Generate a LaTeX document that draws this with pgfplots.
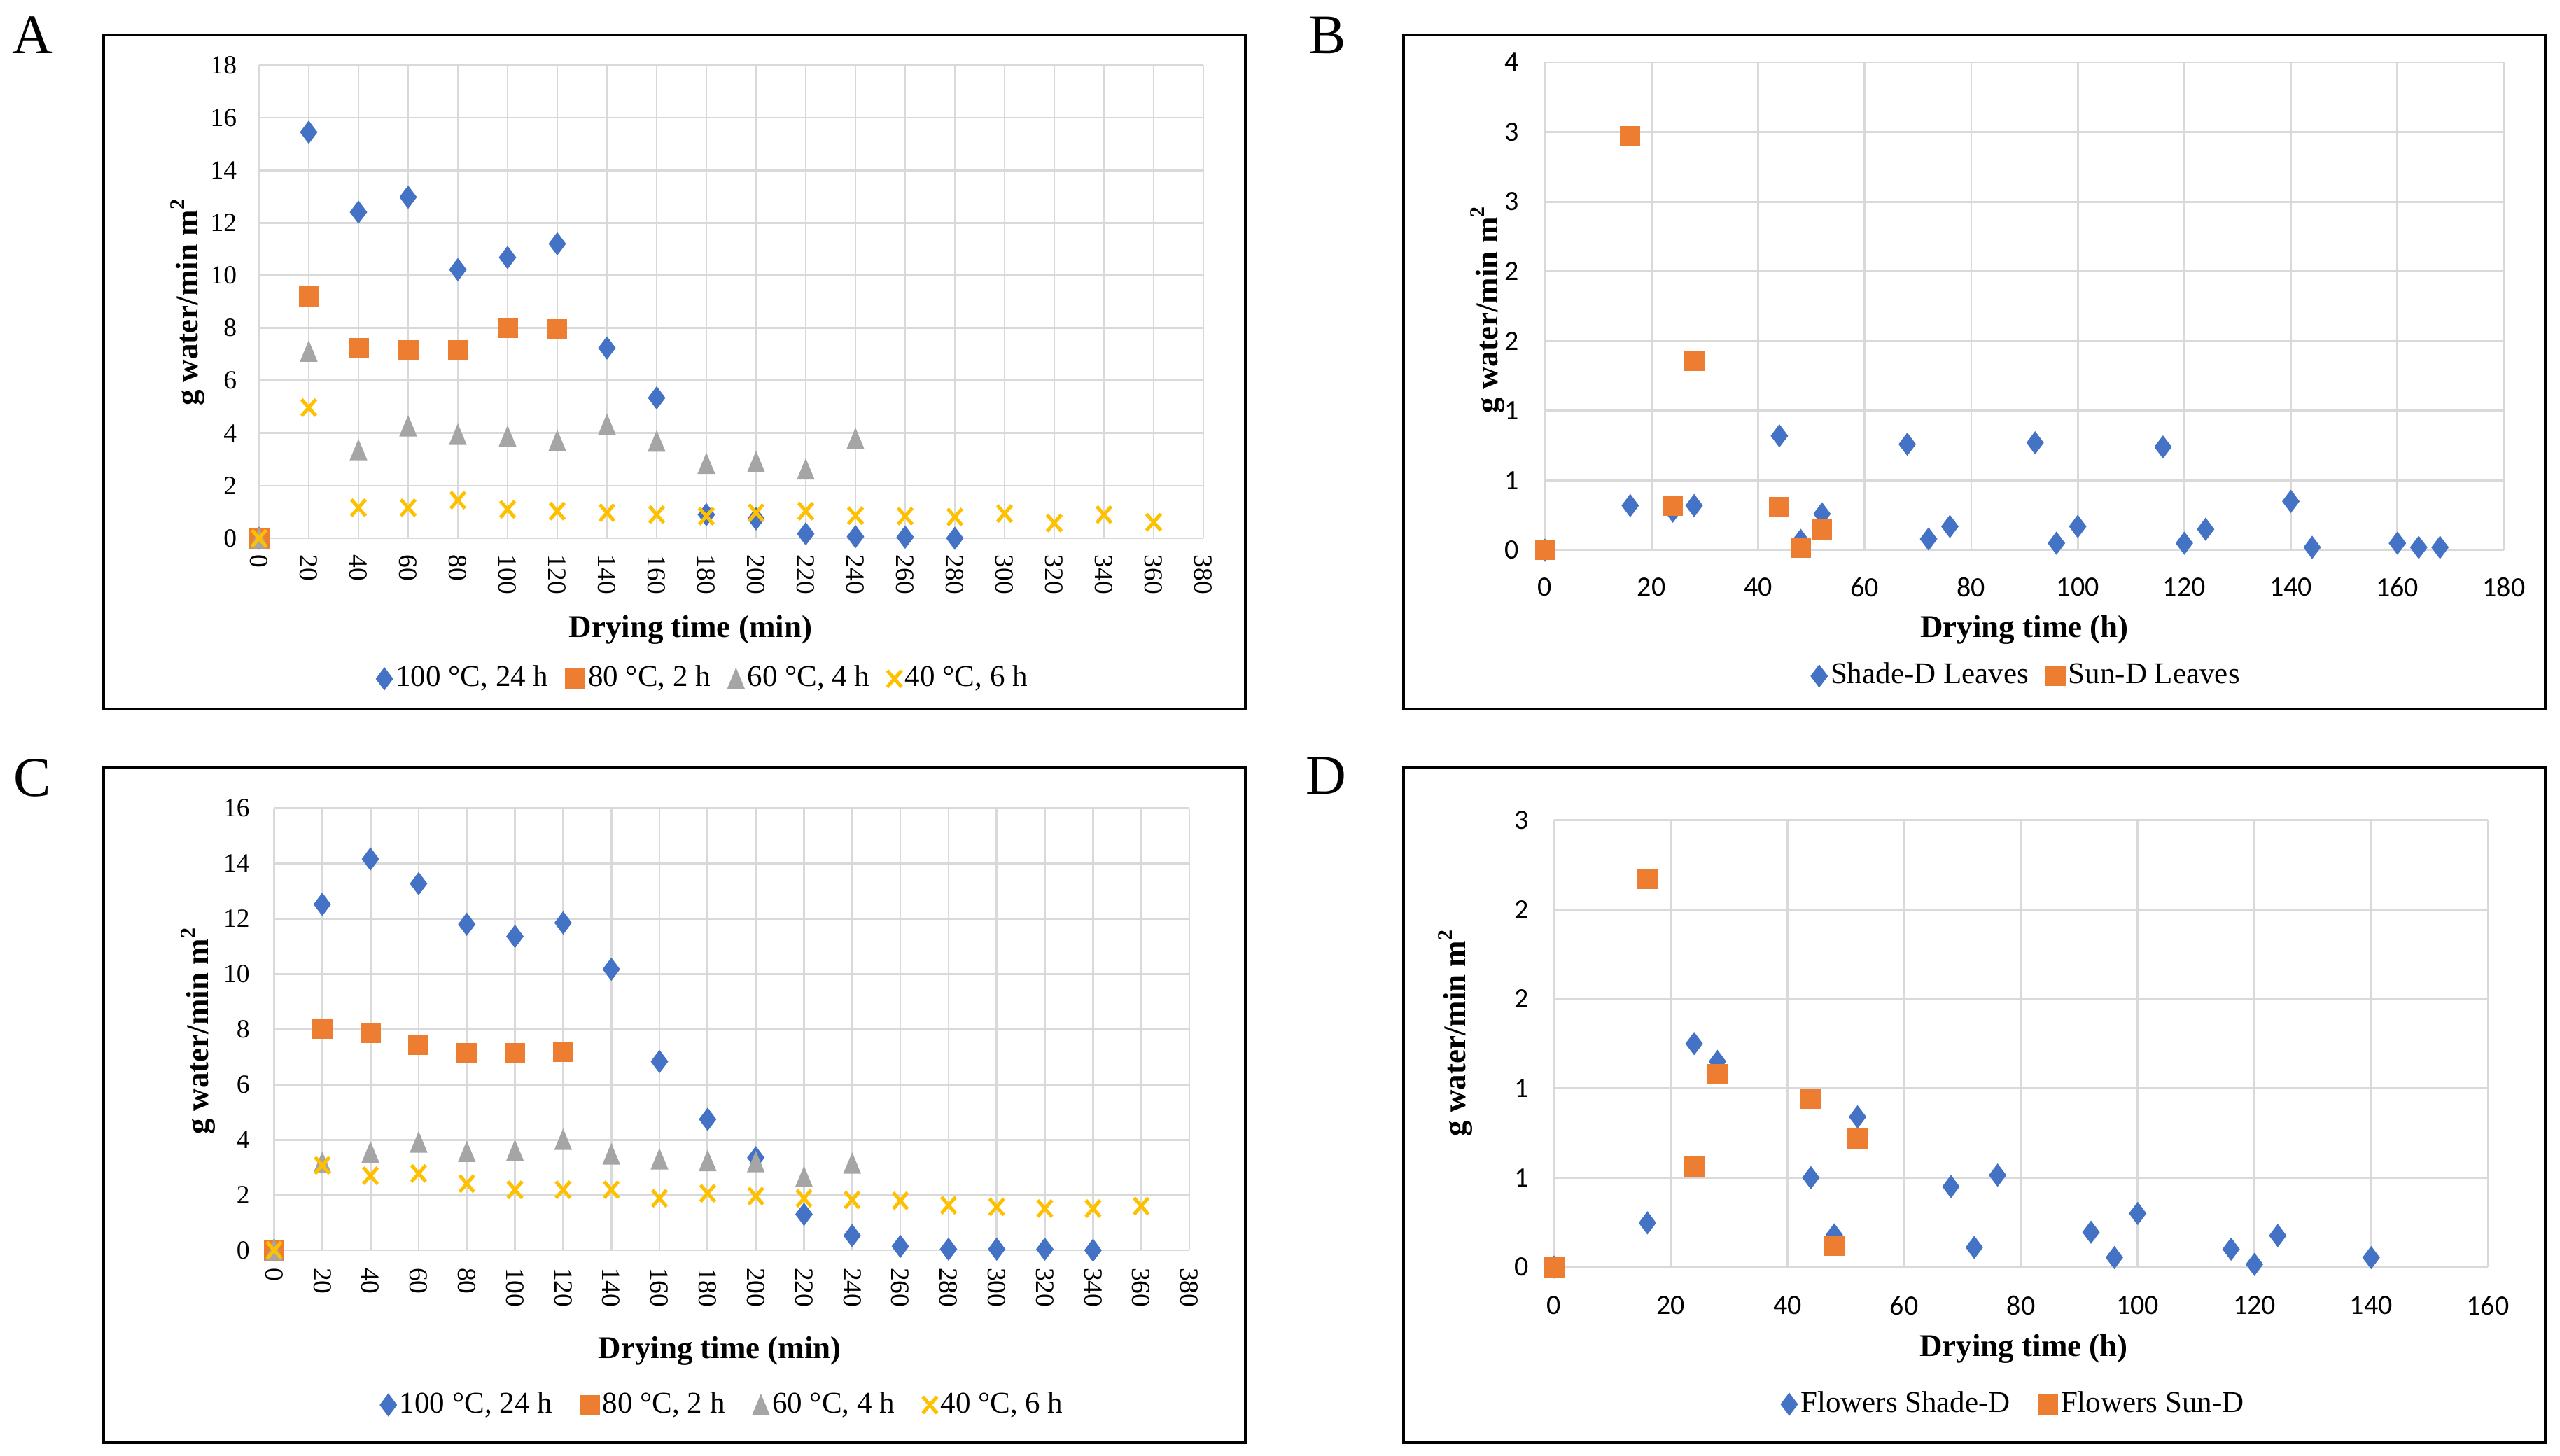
\documentclass[border=0pt]{standalone}
\usepackage{fontspec}
\setmainfont{Liberation Serif}
\newfontfamily\carlito{Carlito}
\usepackage{pgfplots}
\pgfplotsset{compat=1.18}
\definecolor{cblue}{HTML}{4472C4}
\definecolor{corange}{HTML}{ED7D31}
\definecolor{cgray}{HTML}{A5A5A5}
\definecolor{cyellow}{HTML}{FFC000}
\definecolor{cgrid}{HTML}{D9D9D9}
\pgfplotsset{
  exstyle/.style={
    scale only axis, clip=false,
    axis line style={draw=none},
    major tick length=0pt,
    grid=major,
    major grid style={cgrid, line width=0.55pt},
    /pgf/number format/assume math mode=true,
    legend columns=-1,
    legend style={draw=none, fill=none, font=\fontsize{8.6}{10}\selectfont, anchor=center,
      nodes={inner sep=1pt},
      /tikz/every even column/.append style={column sep=4pt}},
    legend image code/.code={\draw[##1] plot coordinates {(3pt,0pt)};},
    label style={font=\fontsize{9}{11}\selectfont\bfseries},
    xlabel style={anchor=center},
    ylabel style={anchor=center},
  },
  serifticks/.style={tick label style={font=\fontsize{7.5}{9}\selectfont}},
  sansticks/.style={tick label style={font=\carlito\fontsize{8}{10}\selectfont}},
  sdiam/.style={only marks, mark=diamond*, mark size=3pt, color=cblue},
  ssq/.style={only marks, mark=square*, mark size=2.7pt, color=corange},
  stri/.style={only marks, mark=triangle*, mark size=3.6pt, color=cgray, mark options={yshift=-0.9pt, xscale=0.72}},
  scross/.style={only marks, mark=x, mark size=2.9pt, color=cyellow, mark options={line width=1pt, yscale=1.15}},
}
\begin{document}
\begin{tikzpicture}[x=1pt,y=1pt]
\path[use as bounding box] (0,0) rectangle (731.4,415.8);
% frames
\draw[line width=0.7pt] (29.6,213.2) rectangle (355.8,405.8);
\draw[line width=0.7pt] (401,213.2) rectangle (727.2,405.8);
\draw[line width=0.7pt] (29.6,3.6) rectangle (355.8,196.6);
\draw[line width=0.7pt] (401,3.6) rectangle (727.2,196.6);
\node[font=\fontsize{16}{18}\selectfont] at (9.2,405.8) {A};
\node[font=\fontsize{16}{18}\selectfont] at (379.2,405.8) {B};
\node[font=\fontsize{16}{18}\selectfont] at (9.2,193.6) {C};
\node[font=\fontsize{16}{18}\selectfont] at (378.8,194.2) {D};

% ---------------- A
\begin{axis}[exstyle, serifticks,
  at={(74pt,262pt)}, anchor=south west, width=269.8pt, height=135.2pt,
  xmin=0, xmax=380, ymin=0, ymax=18,
  xtick={0,20,...,380}, ytick={0,2,...,18},
  x tick label style={yshift=-4.6pt, rotate=-90, anchor=west, inner sep=0pt},
  y tick label style={anchor=east, inner sep=0pt, xshift=-6.2pt},
  xlabel={Drying time (min)}, ylabel={g water/min m\textsuperscript{2}},
  xlabel style={at={(axis description cs:0.457,-0.194)}},
  ylabel style={at={(axis description cs:-0.0756,0.5)}},
  legend style={at={(axis description cs:0.471,-0.297)}},
]
\addplot[sdiam] coordinates {(0,0)(20,15.45)(40,12.41)(60,12.98)(80,10.22)(100,10.68)(120,11.2)(140,7.24)(160,5.34)(180,0.9)(200,0.74)(220,0.17)(240,0.06)(260,0.04)(280,0.0)};
\addplot[ssq] coordinates {(0,0)(20,9.2)(40,7.23)(60,7.14)(80,7.14)(100,7.99)(120,7.94)};
\addplot[stri] coordinates {(0,0)(20,7.1)(40,3.35)(60,4.26)(80,3.94)(100,3.87)(120,3.70)(140,4.32)(160,3.68)(180,2.83)(200,2.90)(220,2.62)(240,3.78)};
\addplot[scross] coordinates {(0,0)(20,4.97)(40,1.16)(60,1.16)(80,1.45)(100,1.10)(120,1.03)(140,0.97)(160,0.90)(180,0.84)(200,0.97)(220,1.03)(240,0.86)(260,0.84)(280,0.81)(300,0.94)(320,0.58)(340,0.90)(360,0.61)};
\legend{{100 °C, 24 h},{80 °C, 2 h},{60 °C, 4 h},{40 °C, 6 h}}
\end{axis}

% ---------------- B
\begin{axis}[exstyle, sansticks,
  at={(441.4pt,258.6pt)}, anchor=south west, width=274pt, height=139.4pt,
  xmin=0, xmax=180, ymin=0, ymax=3.5,
  xtick={0,20,...,180}, ytick={0,0.5,1,1.5,2,2.5,3,3.5},
  yticklabels={0,1,1,2,2,3,3,4},
  x tick label style={anchor=north, inner sep=0pt, yshift=-7.7pt},
  y tick label style={anchor=east, inner sep=0pt, xshift=-7.2pt},
  xlabel={Drying time (h)}, ylabel={g water/min m\textsuperscript{2}},
  xlabel style={at={(axis description cs:0.5,-0.1636)}},
  ylabel style={at={(axis description cs:-0.060,0.494)}},
  legend style={at={(axis description cs:0.503,-0.258)}},
]
\addplot[sdiam] coordinates {(0,0)(16,0.32)(24,0.28)(28,0.32)(44,0.82)(48,0.07)(52,0.26)(68,0.76)(72,0.08)(76,0.17)(92,0.77)(96,0.05)(100,0.17)(116,0.74)(120,0.05)(124,0.15)(140,0.35)(144,0.02)(160,0.05)(164,0.02)(168,0.02)};
\addplot[ssq] coordinates {(0,0)(16,2.97)(24,0.32)(28,1.36)(44,0.31)(48,0.02)(52,0.15)};
\legend{{Shade-D Leaves},{Sun-D Leaves}}
\end{axis}

% ---------------- C
\begin{axis}[exstyle, serifticks,
  at={(78.3pt,58.6pt)}, anchor=south west, width=261.5pt, height=126.3pt,
  xmin=0, xmax=380, ymin=0, ymax=16,
  xtick={0,20,...,380}, ytick={0,2,...,16},
  x tick label style={yshift=-4.8pt, rotate=-90, anchor=west, inner sep=0pt},
  y tick label style={anchor=east, inner sep=0pt, xshift=-6.8pt},
  xlabel={Drying time (min)}, ylabel={g water/min m\textsuperscript{2}},
  xlabel style={at={(axis description cs:0.487,-0.228)}},
  ylabel style={at={(axis description cs:-0.083,0.497)}},
  legend style={at={(axis description cs:0.491,-0.35)}, /tikz/every even column/.append style={column sep=7pt}},
]
\addplot[sdiam] coordinates {(0,0)(20,12.52)(40,14.16)(60,13.27)(80,11.80)(100,11.36)(120,11.85)(140,10.17)(160,6.83)(180,4.74)(200,3.35)(220,1.30)(240,0.53)(260,0.14)(280,0.04)(300,0.04)(320,0.04)(340,0.0)};
\addplot[ssq] coordinates {(0,0)(20,8.02)(40,7.87)(60,7.43)(80,7.12)(100,7.12)(120,7.18)};
\addplot[stri] coordinates {(0,0)(20,3.17)(40,3.54)(60,3.90)(80,3.56)(100,3.60)(120,4.00)(140,3.47)(160,3.29)(180,3.23)(200,3.19)(220,2.65)(240,3.14)};
\addplot[scross] coordinates {(0,0)(20,3.07)(40,2.70)(60,2.78)(80,2.41)(100,2.19)(120,2.19)(140,2.19)(160,1.88)(180,2.06)(200,1.96)(220,1.88)(240,1.82)(260,1.79)(280,1.63)(300,1.57)(320,1.51)(340,1.51)(360,1.60)};
\legend{{100 °C, 24 h},{80 °C, 2 h},{60 °C, 4 h},{40 °C, 6 h}}
\end{axis}

% ---------------- D
\begin{axis}[exstyle, sansticks,
  at={(444pt,53.8pt)}, anchor=south west, width=266.8pt, height=127.7pt,
  xmin=0, xmax=160, ymin=0, ymax=2.5,
  xtick={0,20,...,160}, ytick={0,0.5,1,1.5,2,2.5},
  yticklabels={0,1,1,2,2,3},
  x tick label style={anchor=north, inner sep=0pt, yshift=-8.1pt},
  y tick label style={anchor=east, inner sep=0pt, xshift=-7pt},
  xlabel={Drying time (h)}, ylabel={g water/min m\textsuperscript{2}},
  xlabel style={at={(axis description cs:0.503,-0.183)}},
  ylabel style={at={(axis description cs:-0.106,0.525)}},
  legend style={at={(axis description cs:0.493,-0.307)}, /tikz/every even column/.append style={column sep=7pt}},
]
\addplot[sdiam] coordinates {(0,0)(16,0.247)(24,1.25)(28,1.15)(44,0.50)(48,0.18)(52,0.84)(68,0.45)(72,0.11)(76,0.514)(92,0.195)(96,0.053)(100,0.30)(116,0.10)(120,0.015)(124,0.176)(140,0.053)};
\addplot[ssq] coordinates {(0,0)(16,2.17)(24,0.56)(28,1.08)(44,0.94)(48,0.12)(52,0.72)};
\legend{{Flowers Shade-D},{Flowers Sun-D}}
\end{axis}
\end{tikzpicture}
\end{document}
